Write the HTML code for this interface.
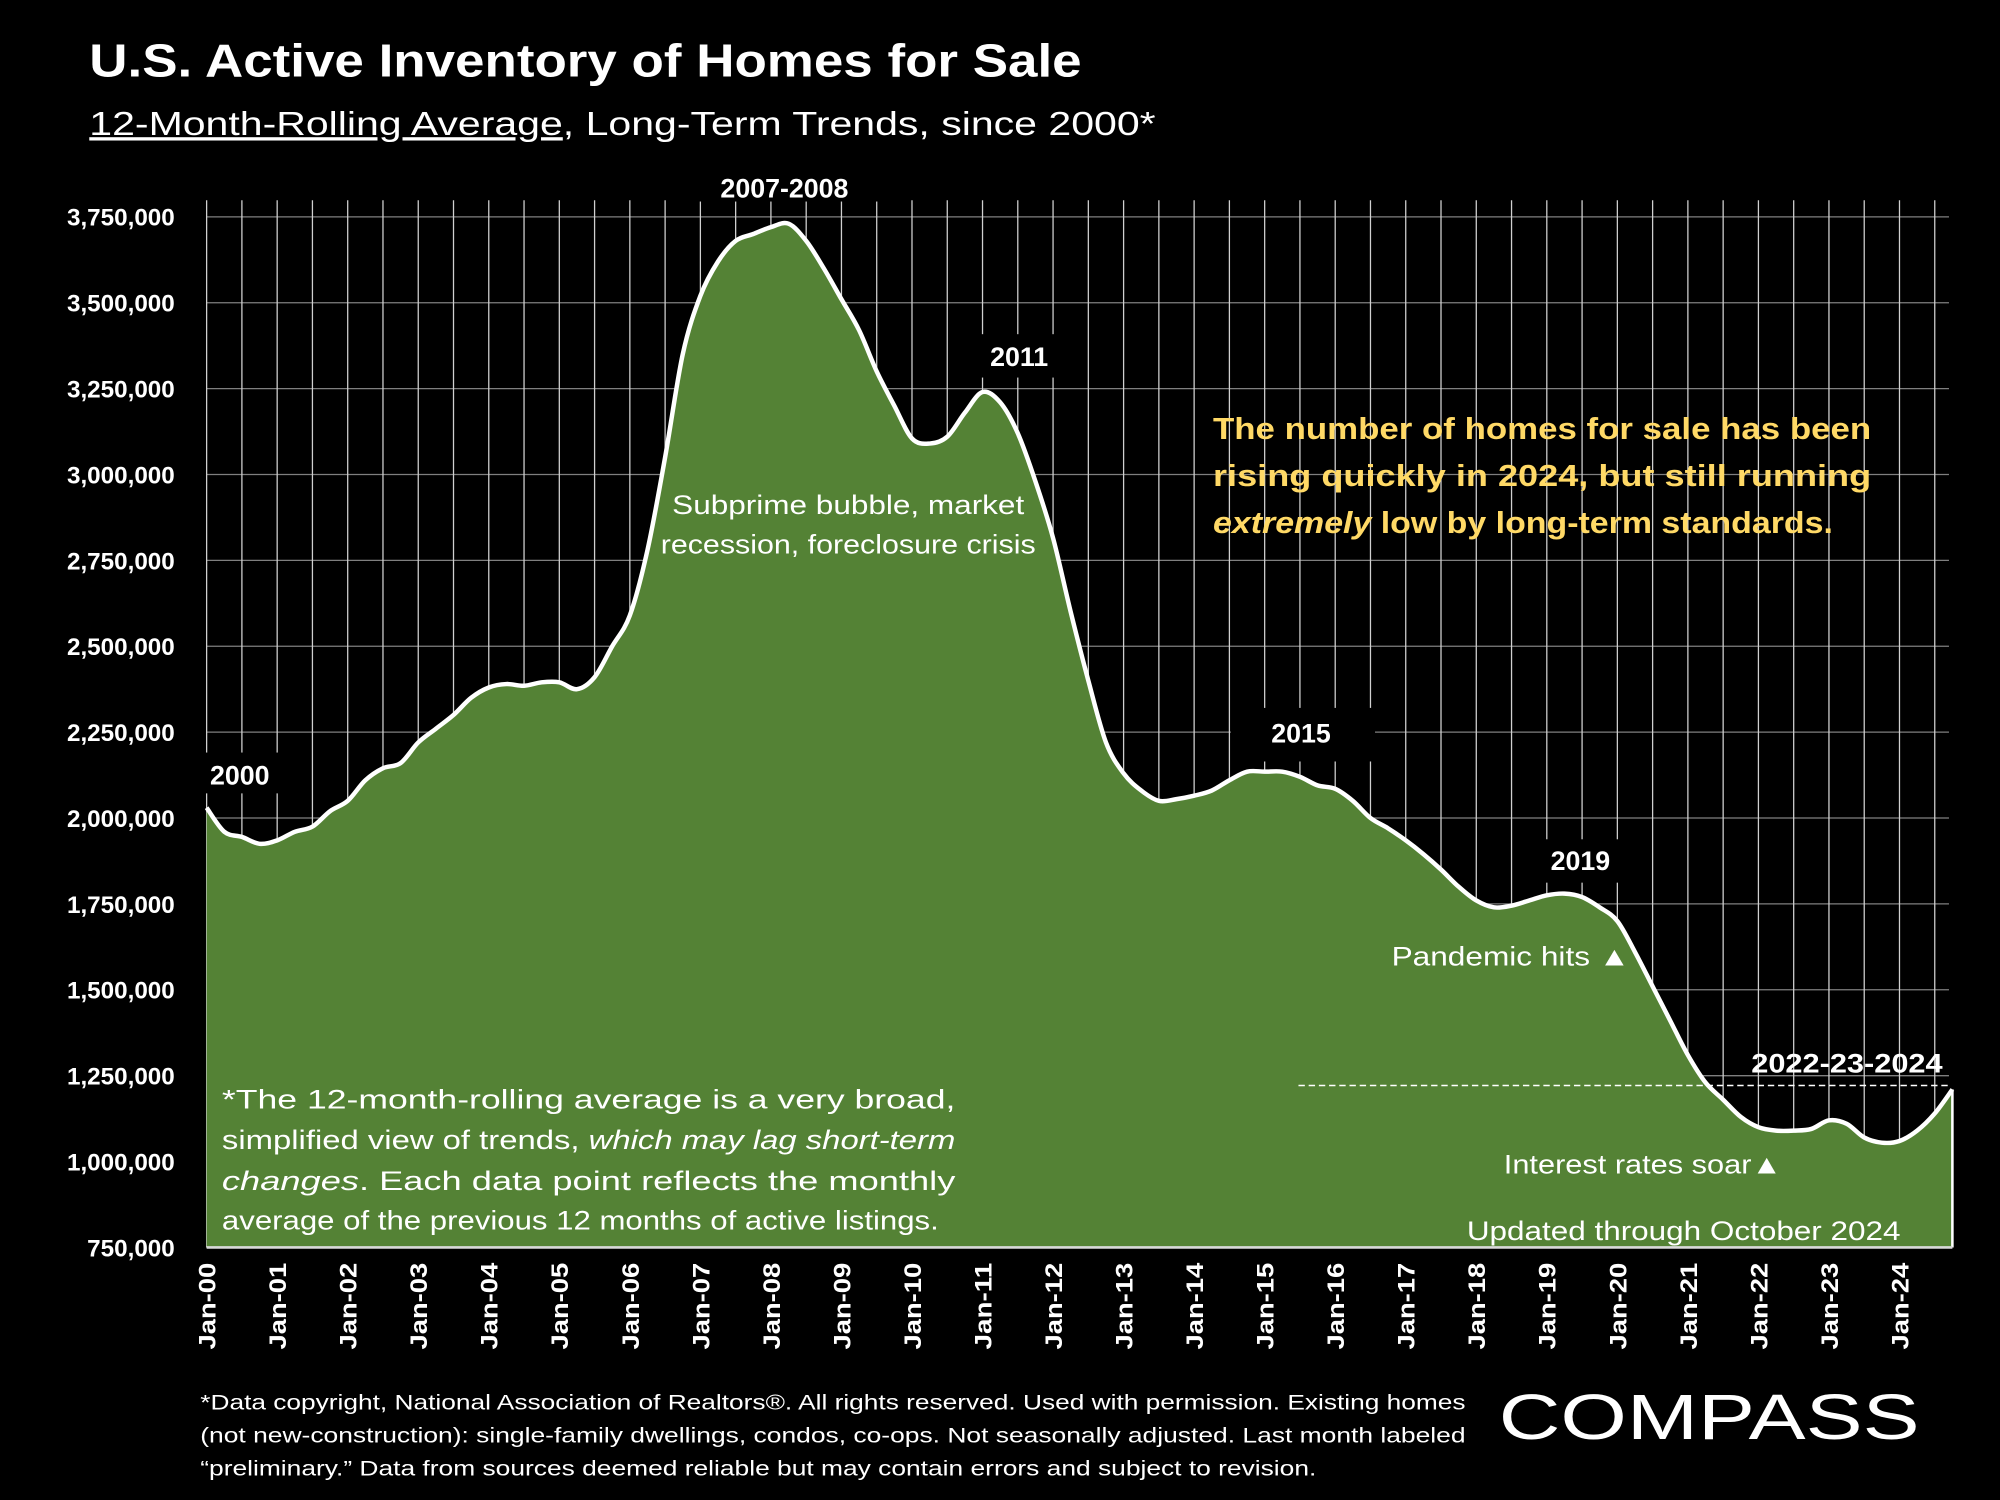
<!DOCTYPE html>
<html><head><meta charset="utf-8"><style>
html,body{margin:0;padding:0;background:#000;}
svg{display:block;}
text{font-family:"Liberation Sans",sans-serif;fill:#fff;}
</style></head><body>
<svg id="chart" width="2000" height="1500" viewBox="0 0 1568 1176" xmlns="http://www.w3.org/2000/svg">
<rect width="1568" height="1176" fill="#000"/>
<text x="70" y="60" font-size="36" font-weight="bold" textLength="778" lengthAdjust="spacingAndGlyphs">U.S. Active Inventory of Homes for Sale</text>
<text x="70" y="106" font-size="26" textLength="836" lengthAdjust="spacingAndGlyphs"><tspan text-decoration="underline">12-Month-Rolling Average</tspan>, Long-Term Trends, since 2000*</text>
<g id="grid"></g>
<g id="marks"></g>
<g id="yaxis"></g>
<g id="xaxis"></g>
<g id="annot">
<rect x="540" y="128" width="150" height="30" fill="#000"/>
<text x="615" y="155" font-size="21" font-weight="bold" text-anchor="middle">2007-2008</text>
<rect x="760" y="262" width="78" height="34" fill="#000"/>
<text x="799" y="287" font-size="21" font-weight="bold" text-anchor="middle">2011</text>
<rect x="965" y="555" width="113" height="42" fill="#000"/>
<text x="1020" y="582" font-size="21" font-weight="bold" text-anchor="middle">2015</text>
<rect x="1195" y="658" width="88" height="34" fill="#000"/>
<text x="1239" y="682" font-size="21" font-weight="bold" text-anchor="middle">2019</text>
<rect x="158" y="590" width="62" height="32" fill="#000"/>
<text x="188" y="615" font-size="21" font-weight="bold" text-anchor="middle">2000</text>
<text x="1448" y="841" font-size="21" font-weight="bold" text-anchor="middle" textLength="150" lengthAdjust="spacingAndGlyphs">2022-23-2024</text>
<line x1="1018" y1="851" x2="1528" y2="851" stroke="#fff" stroke-width="1.2" stroke-dasharray="5,3"/>
<text x="665" y="403" font-size="21" text-anchor="middle" textLength="276" lengthAdjust="spacingAndGlyphs">Subprime bubble, market</text>
<text x="665" y="434" font-size="21" text-anchor="middle" textLength="294" lengthAdjust="spacingAndGlyphs">recession, foreclosure crisis</text>
<g font-size="24" font-weight="bold">
<text x="951" y="344" textLength="516" lengthAdjust="spacingAndGlyphs" style="fill:#FFD966">The number of homes for sale has been</text>
<text x="951" y="381" textLength="516" lengthAdjust="spacingAndGlyphs" style="fill:#FFD966">rising quickly in 2024, but still running</text>
<text x="951" y="418" textLength="486" lengthAdjust="spacingAndGlyphs" style="fill:#FFD966"><tspan font-style="italic">extremely</tspan> low by long-term standards.</text>
</g>
<g font-size="21">
<text x="174" y="869" textLength="575" lengthAdjust="spacingAndGlyphs">*The 12-month-rolling average is a very broad,</text>
<text x="174" y="901" textLength="575" lengthAdjust="spacingAndGlyphs">simplified view of trends, <tspan font-style="italic">which may lag short-term</tspan></text>
<text x="174" y="933" textLength="575" lengthAdjust="spacingAndGlyphs"><tspan font-style="italic">changes</tspan>. Each data point reflects the monthly</text>
<text x="174" y="964" textLength="562" lengthAdjust="spacingAndGlyphs">average of the previous 12 months of active listings.</text>
</g>
<text x="1278" y="757" font-size="21" text-anchor="end" textLength="187" lengthAdjust="spacingAndGlyphs">Pandemic  hits ▲</text>
<text x="1397" y="920" font-size="21" text-anchor="end" textLength="218" lengthAdjust="spacingAndGlyphs">Interest rates soar▲</text>
<text x="1320" y="972" font-size="21" text-anchor="middle" textLength="340" lengthAdjust="spacingAndGlyphs">Updated through October 2024</text>
</g>
<g font-size="17">
<text x="157" y="1105" textLength="992" lengthAdjust="spacingAndGlyphs">*Data copyright, National Association of Realtors®. All rights reserved. Used with permission. Existing homes</text>
<text x="157" y="1131" textLength="992" lengthAdjust="spacingAndGlyphs">(not new-construction): single-family dwellings, condos, co-ops. Not seasonally adjusted. Last month labeled</text>
<text x="157" y="1157" textLength="875" lengthAdjust="spacingAndGlyphs">“preliminary.” Data from sources deemed reliable but may contain errors and subject to revision.</text>
</g>
<text x="1175" y="1128" font-size="50" textLength="330" lengthAdjust="spacingAndGlyphs">COMPASS</text>
</svg>
<script>
const yearsT = [2000,2000.25,2000.5,2000.75,2001,2001.25,2001.5,2001.75,2002,2002.25,2002.5,2002.75,2003,2003.25,2003.5,2003.75,2004,2004.25,2004.5,2004.75,2005,2005.25,2005.5,2005.75,2006,2006.25,2006.5,2006.75,2007,2007.25,2007.5,2007.75,2008,2008.25,2008.5,2008.75,2009,2009.25,2009.5,2009.75,2010,2010.25,2010.5,2010.75,2011,2011.25,2011.5,2011.75,2012,2012.25,2012.5,2012.75,2013,2013.25,2013.5,2013.75,2014,2014.25,2014.5,2014.75,2015,2015.25,2015.5,2015.75,2016,2016.25,2016.5,2016.75,2017,2017.25,2017.5,2017.75,2018,2018.25,2018.5,2018.75,2019,2019.25,2019.5,2019.75,2020,2020.25,2020.5,2020.75,2021,2021.25,2021.5,2021.75,2022,2022.25,2022.5,2022.75,2023,2023.25,2023.5,2023.75,2024,2024.25,2024.5,2024.75];
const inventory = [2030,1960,1945,1925,1935,1960,1975,2020,2050,2110,2145,2160,2220,2260,2300,2350,2380,2390,2385,2395,2395,2375,2410,2500,2590,2780,3050,3350,3520,3620,3680,3700,3720,3730,3680,3600,3510,3420,3300,3200,3105,3090,3110,3180,3240,3210,3120,2980,2815,2600,2400,2220,2130,2080,2050,2055,2065,2080,2110,2135,2135,2135,2120,2095,2085,2050,2000,1970,1935,1895,1850,1800,1760,1740,1745,1760,1775,1780,1770,1740,1700,1610,1510,1410,1310,1230,1180,1130,1100,1090,1090,1095,1120,1110,1070,1055,1060,1090,1140,1210];
const yTicks = [750000,1000000,1250000,1500000,1750000,2000000,2250000,2500000,2750000,3000000,3250000,3500000,3750000];
const xTickYears = [2000,2001,2002,2003,2004,2005,2006,2007,2008,2009,2010,2011,2012,2013,2014,2015,2016,2017,2018,2019,2020,2021,2022,2023,2024];
const xTickLabels = ["Jan-00","Jan-01","Jan-02","Jan-03","Jan-04","Jan-05","Jan-06","Jan-07","Jan-08","Jan-09","Jan-10","Jan-11","Jan-12","Jan-13","Jan-14","Jan-15","Jan-16","Jan-17","Jan-18","Jan-19","Jan-20","Jan-21","Jan-22","Jan-23","Jan-24"];

const NS="http://www.w3.org/2000/svg";
const X0=162, YW=55.3, YT=170, YB=978;
const xS = t => X0 + (t-2000)*YW;
const yS = v => YB - (v-750000)/(3000000)*(YB-YT);
function mk(tag, attrs, parent){const e=document.createElementNS(NS,tag);for(const k in attrs)e.setAttribute(k,attrs[k]);parent.appendChild(e);return e;}

const grid=document.getElementById('grid');
for(const v of yTicks){
  const l=mk('line',{x1:X0,x2:1528,y1:yS(v),y2:yS(v),stroke:'#7f7f7f','stroke-width':1},grid);
  
  
}
for(let t=2000;t<=2024.6;t+=0.5){
  const l=mk('line',{x1:xS(t),x2:xS(t),y1:157,y2:YB,stroke:'#d0d0d0','stroke-width':1},grid);
  
  
}
const marks=document.getElementById('marks');
const pts=yearsT.map((t,i)=>[xS(t),yS(inventory[i]*1000)]);
let curve='M'+pts[0][0]+','+pts[0][1];
for(let i=0;i<pts.length-1;i++){
  const p0=pts[Math.max(0,i-1)],p1=pts[i],p2=pts[i+1],p3=pts[Math.min(pts.length-1,i+2)];
  const c1=[p1[0]+(p2[0]-p0[0])/6,p1[1]+(p2[1]-p0[1])/6];
  const c2=[p2[0]-(p3[0]-p1[0])/6,p2[1]-(p3[1]-p1[1])/6];
  curve+=' C'+c1[0]+','+c1[1]+' '+c2[0]+','+c2[1]+' '+p2[0]+','+p2[1];
}
const lastX=pts[pts.length-1][0];
const d='M'+pts[0][0]+','+YB+' L'+curve.slice(1)+' L'+lastX+','+YB+' Z';
const area=mk('path',{d:d,fill:'#548235'},marks);


const line=mk('path',{d:curve,fill:'none',stroke:'#fff','stroke-width':3.5,'stroke-linejoin':'round'},marks);


const edge=mk('line',{x1:lastX,x2:lastX,y1:pts[pts.length-1][1],y2:YB,stroke:'#fff','stroke-width':2},marks);


const base=mk('line',{x1:X0,x2:lastX,y1:YB,y2:YB,stroke:'#d9d9d9','stroke-width':2},marks);



const ya=document.getElementById('yaxis');
for(const v of yTicks){
  const tx=mk('text',{x:137,y:yS(v)+7,'font-size':19,'font-weight':'bold','text-anchor':'end'},ya);
  tx.textContent=v.toLocaleString('en-US');
  
  
}
const xa=document.getElementById('xaxis');
xTickYears.forEach((t,i)=>{
  const x=xS(t)+7;
  const tx=mk('text',{x:0,y:0,'font-size':19,'font-weight':'bold','text-anchor':'end',textLength:68,lengthAdjust:'spacingAndGlyphs',transform:'translate('+x+',990) rotate(-90)'},xa);
  tx.textContent=xTickLabels[i];
  
  
});
</script>
</body></html>
